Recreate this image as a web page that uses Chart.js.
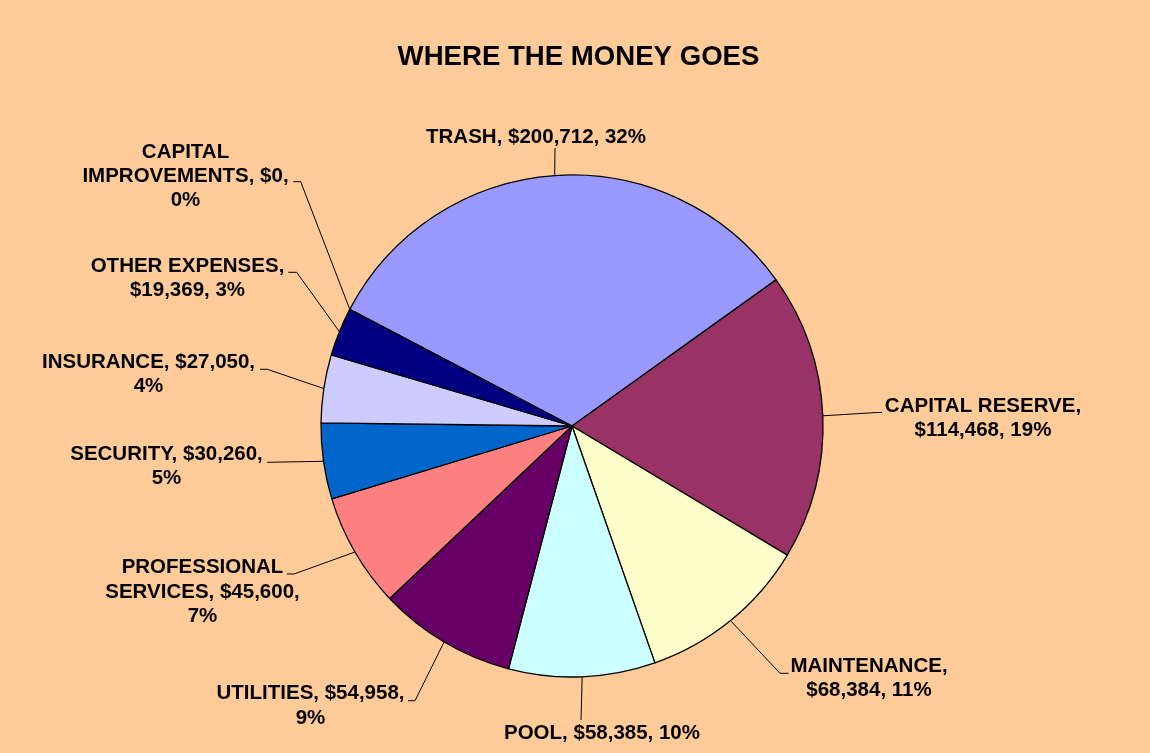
<!DOCTYPE html>
<html>
<head>
<meta charset="utf-8">
<script src="https://cdn.jsdelivr.net/npm/chart.js@4/dist/chart.umd.min.js"></script>
<style>
  html, body { margin: 0; padding: 0; background: #FFCC99; }
  #wrap { width: 1150px; height: 753px; }
</style>
</head>
<body>
<div id="wrap"><canvas id="c" width="1150" height="753"></canvas></div>
<script>
// ---- data ----
const TITLE = 'WHERE THE MONEY GOES';
const categories = ['TRASH', 'CAPITAL RESERVE', 'MAINTENANCE', 'POOL', 'UTILITIES',
  'PROFESSIONAL SERVICES', 'SECURITY', 'INSURANCE', 'OTHER EXPENSES', 'CAPITAL IMPROVEMENTS'];
const amounts = [200712, 114468, 68384, 58385, 54958, 45600, 30260, 27050, 19369, 0];
const percentLabels = ['32%', '19%', '11%', '10%', '9%', '7%', '5%', '4%', '3%', '0%'];

// ---- styles ----
const sliceColors = ['#9999FF', '#993366', '#FFFFCC', '#CCFFFF', '#660066',
  '#FF8080', '#0066CC', '#CCCCFF', '#000080', '#FF00FF'];
const BG = '#FFCC99';
const LABEL_FONT = 'bold 20.5px "Liberation Sans", Arial, sans-serif';
const TITLE_FONT = 'bold 27.6px "Liberation Sans", Arial, sans-serif';
const LINE_H = 24.4;
// label placement: words per line, text centre x, first line y, leader elbow (ex,ey), optional horizontal end hx
const labelLayout = [
  { words: [4],       x: 536,   y: 137,   ex: 555,   ey: 148 },
  { words: [2, 2],    x: 983,   y: 406,   ex: 877,   ey: 412.5, hx: 882 },
  { words: [1, 2],    x: 869,   y: 666,   ex: 780,   ey: 673.3, hx: 788.5 },
  { words: [3],       x: 602,   y: 733,   ex: 581,   ey: 720 },
  { words: [2, 1],    x: 310.5, y: 693.5, ex: 415,   ey: 700.7, hx: 408 },
  { words: [1, 2, 1], x: 202.5, y: 567.5, ex: 294,   ey: 574,   hx: 287 },
  { words: [2, 1],    x: 166.5, y: 454,   ex: 267.3, ey: 462.3 },
  { words: [2, 1],    x: 148.5, y: 362,   ex: 267.3, ey: 369.3, hx: 260 },
  { words: [2, 2],    x: 187.5, y: 266,   ex: 296.7, ey: 272.3, hx: 288.3 },
  { words: [1, 2, 1], x: 185.5, y: 152,   ex: 300.7, ey: 181.7, hx: 293.3 }
];

function labelLines(i) {
  const full = categories[i] + ', $' + amounts[i].toLocaleString('en-US') + ', ' + percentLabels[i];
  const words = full.split(' ');
  const lines = [];
  let k = 0;
  labelLayout[i].words.forEach(n => { lines.push(words.slice(k, k + n).join(' ')); k += n; });
  return lines;
}

const decorPlugin = {
  id: 'decor',
  beforeDraw(chart) {
    const ctx = chart.ctx;
    ctx.save();
    ctx.fillStyle = BG;
    ctx.fillRect(0, 0, chart.width, chart.height);
    ctx.restore();
  },
  afterDatasetsDraw(chart) {
    const ctx = chart.ctx;
    const meta = chart.getDatasetMeta(0);
    ctx.save();
    ctx.fillStyle = '#000';
    ctx.textAlign = 'center';
    ctx.textBaseline = 'middle';
    ctx.font = TITLE_FONT;
    ctx.fillText(TITLE, 578.5, 57);

    ctx.font = LABEL_FONT;
    ctx.strokeStyle = '#000';
    ctx.lineWidth = 1;
    meta.data.forEach((arc, i) => {
      const p = arc.getProps(['x', 'y', 'startAngle', 'endAngle', 'outerRadius'], true);
      const mid = (p.startAngle + p.endAngle) / 2;
      const ax = p.x + Math.cos(mid) * p.outerRadius;
      const ay = p.y + Math.sin(mid) * p.outerRadius;
      const L = labelLayout[i];
      ctx.beginPath();
      ctx.moveTo(ax, ay);
      ctx.lineTo(L.ex, L.ey);
      if (L.hx !== undefined) ctx.lineTo(L.hx, L.ey);
      ctx.stroke();
      labelLines(i).forEach((t, j) => ctx.fillText(t, L.x, L.y + j * LINE_H));
    });
    ctx.restore();
  }
};

new Chart(document.getElementById('c'), {
  type: 'pie',
  data: {
    labels: categories,
    datasets: [{
      data: amounts,
      backgroundColor: sliceColors,
      borderColor: '#000',
      borderWidth: 1.3
    }]
  },
  options: {
    responsive: false,
    animation: false,
    rotation: -62.3,
    radius: 251,
    layout: { padding: { left: 0, right: 6, top: 99, bottom: 0 } },
    plugins: {
      legend: { display: false },
      tooltip: { enabled: false },
      title: { display: false }
    }
  },
  plugins: [decorPlugin]
});
</script>
</body>
</html>
